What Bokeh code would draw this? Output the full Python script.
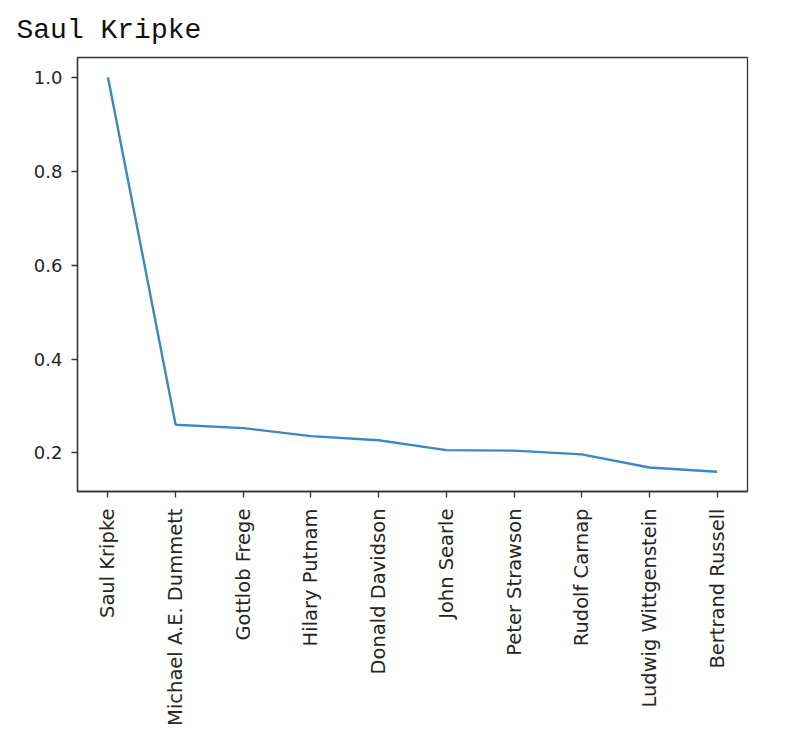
from bokeh.plotting import figure
from bokeh.models import Range1d, FixedTicker, Title, PrintfTickFormatter
from bokeh.embed import file_html
from bokeh.resources import INLINE

names = ["Saul Kripke", "Michael A.E. Dummett", "Gottlob Frege", "Hilary Putnam",
         "Donald Davidson", "John Searle", "Peter Strawson", "Rudolf Carnap",
         "Ludwig Wittgenstein", "Bertrand Russell"]
scores = [1.0, 0.260, 0.253, 0.236, 0.227, 0.206, 0.205, 0.197, 0.169, 0.160]
y_ticks = [0.2, 0.4, 0.6, 0.8, 1.0]

xs = list(range(len(names)))

p = figure(frame_width=670, frame_height=434, output_backend="svg", toolbar_location=None,
           x_range=Range1d(-0.45, len(names) - 1 + 0.45),
           y_range=Range1d(0.118, 1.042),
           min_border_left=77, min_border_right=20, min_border_top=57,
           min_border_bottom=10)

p.title = Title(text="Saul Kripke", text_font="Liberation Mono", text_font_size="28px",
                text_font_style="normal", text_color="#111111", align="left",
                offset=-61, standoff=24)

p.line(xs, scores, line_color="#3b89c2", line_width=2.4)

p.grid.visible = False
p.outline_line_color = "#333333"
p.outline_line_width = 1.3
p.background_fill_color = "white"
p.border_fill_color = "white"

p.xaxis.ticker = FixedTicker(ticks=xs)
p.xaxis.major_label_overrides = {i: n for i, n in enumerate(names)}
p.xaxis.major_label_orientation = 1.5707963
p.yaxis.ticker = FixedTicker(ticks=y_ticks)
p.yaxis.formatter = PrintfTickFormatter(format="%.1f")

for ax in (p.xaxis[0], p.yaxis[0]):
    ax.axis_line_color = "#333333"
    ax.axis_line_width = 1.3
    ax.major_tick_line_color = "#333333"
    ax.major_tick_line_width = 1.3
    ax.major_tick_out = 6
    ax.major_tick_in = 0
    ax.minor_tick_line_color = None
    ax.major_label_text_font = "DejaVu Sans"
    ax.major_label_text_color = "#262626"
p.xaxis.major_label_standoff = 11
p.yaxis.major_label_standoff = 9
p.xaxis.major_label_text_font_size = "19.5px"
p.yaxis.major_label_text_font_size = "18px"

open("out.html", "w").write(file_html(p, INLINE))
